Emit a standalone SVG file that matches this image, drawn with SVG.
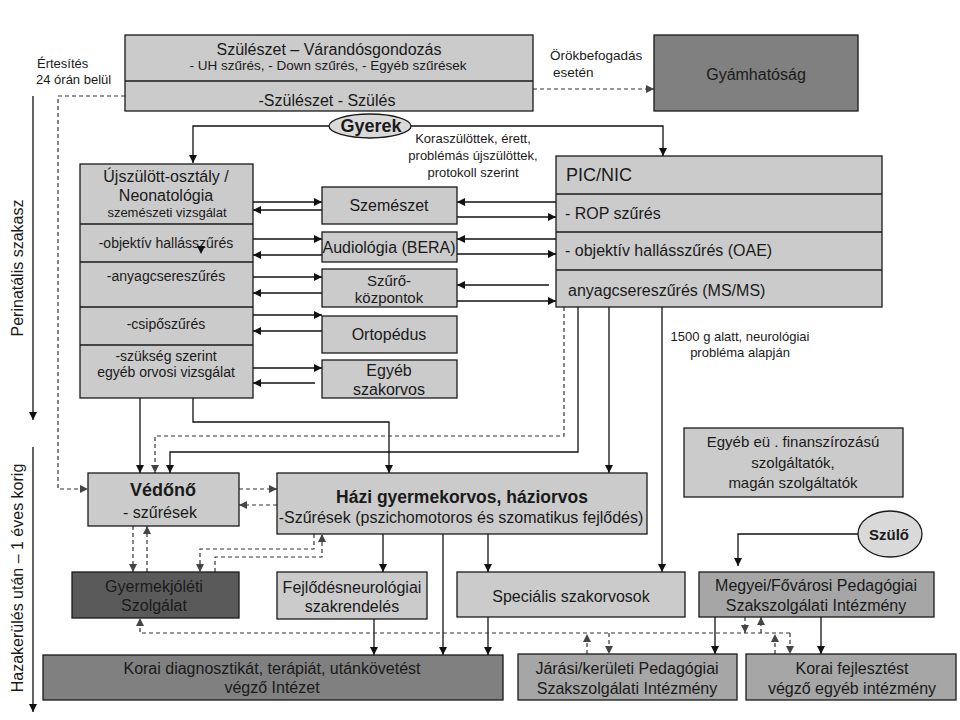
<svg xmlns="http://www.w3.org/2000/svg" width="960" height="720" viewBox="0 0 960 720">
<defs>
<style>
.b{fill:#cbcbcb;stroke:#1a1a1a;stroke-width:1.3}
.m{fill:#a6a6a6;stroke:#1a1a1a;stroke-width:1.3}
.dk{fill:#808080;stroke:#1a1a1a;stroke-width:1.3}
.dv{fill:#5a5a5a;stroke:#1a1a1a;stroke-width:1.3}
.ln{stroke:#1a1a1a;stroke-width:1.3;fill:none}
text{font-family:"Liberation Sans",Arial,sans-serif;fill:#1a1a1a}
.c{text-anchor:middle}
.s16{font-size:16px}
.s14{font-size:14px}
.s13{font-size:13px}
.bd{font-weight:bold}
.c1{stroke:#111;stroke-width:1.3;fill:none;marker-end:url(#a)}
.c0{stroke:#111;stroke-width:1.3;fill:none}
.d1{stroke:#333;stroke-width:1.2;fill:none;stroke-dasharray:4 3;marker-end:url(#g)}
.d0{stroke:#333;stroke-width:1.2;fill:none;stroke-dasharray:4 3}
</style>
<marker id="a" viewBox="0 0 10 10" refX="10" refY="5" markerWidth="9" markerHeight="8" markerUnits="userSpaceOnUse" orient="auto"><path d="M0,0 L10,5 L0,10 z" fill="#111"/></marker>
<marker id="g" viewBox="0 0 10 10" refX="10" refY="5" markerWidth="9" markerHeight="8" markerUnits="userSpaceOnUse" orient="auto"><path d="M0,0 L10,5 L0,10 z" fill="#444"/></marker>
</defs>
<rect width="960" height="720" fill="#ffffff"/>

<g id="axis">
<line x1="33" y1="96" x2="33" y2="420" class="c1"/>
<line x1="33" y1="447" x2="33" y2="712" class="c1"/>
<text class="c s16" transform="translate(23,268) rotate(-90)">Perinatális szakasz</text>
<text class="c s16" transform="translate(23,578) rotate(-90)">Hazakerülés után – 1 éves korig</text>
</g>

<g id="connectors">
<path class="c1" d="M329,126 H193 V163"/>
<path class="c1" d="M411,126 H663 V156"/>
<path class="c1" d="M253,202 H322"/>
<path class="c1" d="M322,210 H253"/>
<path class="c1" d="M253,239 H322"/>
<path class="c1" d="M322,255 H253"/>
<path class="c1" d="M253,277 H322"/>
<path class="c1" d="M322,293 H253"/>
<path class="c1" d="M253,315 H322"/>
<path class="c1" d="M322,331 H253"/>
<path class="c1" d="M253,368 H322"/>
<path class="c1" d="M315,383 H253"/>
<path class="c1" d="M556,202 H457"/>
<path class="c1" d="M457,217 H556"/>
<path class="c1" d="M556,239 H457"/>
<path class="c1" d="M457,254 H556"/>
<path class="c1" d="M549,285 H457"/>
<path class="c1" d="M457,301 H556"/>
<path class="c1" d="M140,398 V473"/>
<path class="c1" d="M193,398 V422 H389 V473"/>
<path class="c1" d="M578,307 V452 H170 V473"/>
<path class="c1" d="M609,307 V473"/>
<path class="c1" d="M662,307 V572"/>
<path class="c1" d="M383,534 V572"/>
<path class="c1" d="M443,534 V655"/>
<path class="c1" d="M488,534 V572"/>
<path class="c1" d="M374,619 V655"/>
<path class="c1" d="M488,617 V655"/>
<path class="c1" d="M858,534 H738 V566"/>
<path class="c1" d="M715,617 V654"/>
<path class="c1" d="M821,617 V654"/>

<path class="d1" d="M533,89 H654"/>
<path class="d1" d="M125,96 H58 V489 H88"/>
<path class="d1" d="M564,307 V436 H155 V473"/>
<path class="d1" d="M239,489 H277"/>
<path class="d1" d="M277,505 H239"/>
<path class="d1" d="M133,526 V572"/>
<path class="d1" d="M147,572 V526"/>
<path class="d1" d="M314,534 V549 H200 V572"/>
<path class="d1" d="M215,572 V557 H322 V534"/>
<path class="d1" d="M790,633 H140 V618"/>
<path class="d1" d="M587,654 V634"/>
<path class="d1" d="M609,633 V654"/>
<path class="d1" d="M745,617 V633"/>
<path class="d1" d="M761,633 V617"/>
<path class="d1" d="M775,654 V634"/>
<path class="d1" d="M790,633 V654"/>
</g>

<g id="szuleszet">
<rect class="b" x="125" y="35" width="408" height="76"/>
<line class="ln" x1="125" y1="81" x2="533" y2="81"/>
<text class="c s16" x="329" y="55">Szülészet – Várandósgondozás</text>
<text class="c" x="328" y="70" font-size="13.5">- UH szűrés, - Down szűrés, - Egyéb szűrések</text>
<text class="c s16" x="327" y="106">-Szülészet - Szülés</text>
</g>

<g id="gyamhatosag">
<rect class="dk" x="654" y="35" width="204" height="76" fill="#7c7c7c"/>
<text class="c s16" x="756" y="80" fill="#333">Gyámhatóság</text>
</g>

<g id="labels">
<text class="s13" x="37" y="68">Értesítés</text>
<text class="s13" x="36" y="84">24 órán belül</text>
<text x="550" y="60" font-size="13.5">Örökbefogadás</text>
<text x="553" y="77" font-size="13.5">esetén</text>
<text class="c s13" x="473" y="143">Koraszülöttek, érett,</text>
<text class="c s13" x="473" y="160">problémás újszülöttek,</text>
<text class="c s13" x="473" y="177">protokoll szerint</text>
<text class="c s13" x="740" y="341">1500 g alatt, neurológiai</text>
<text class="c s13" x="740" y="357">probléma alapján</text>
</g>

<g id="gyerek">
<ellipse cx="370" cy="126" rx="41" ry="12" fill="#d9d9d9" stroke="#1a1a1a" stroke-width="1.3"/>
<text class="c bd" x="371" y="132" font-size="18">Gyerek</text>
</g>

<g id="ujszulott">
<rect class="b" x="80" y="164" width="173" height="234"/>
<line class="ln" x1="80" y1="224" x2="253" y2="224"/>
<line class="ln" x1="80" y1="262" x2="253" y2="262"/>
<line class="ln" x1="80" y1="307" x2="253" y2="307"/>
<line class="ln" x1="80" y1="345" x2="253" y2="345"/>
<text class="c s16" x="166" y="182">Újszülött-osztály /</text>
<text class="c s16" x="166" y="201">Neonatológia</text>
<text class="c s13" x="167" y="217">szemészeti vizsgálat</text>
<text class="c s14" x="166" y="248">-objektív hallásszűrés</text>
<polygon points="197,246 205,246 201,254" fill="#111"/>
<text class="c s14" x="166" y="281">-anyagcsereszűrés</text>
<text class="c s14" x="166" y="329">-csipőszűrés</text>
<text class="c s14" x="166" y="361">-szükség szerint</text>
<text class="c s14" x="166" y="377">egyéb orvosi vizsgálat</text>
</g>

<g id="szemeszet">
<rect class="b" x="322" y="187" width="135" height="37"/>
<text class="c s16" x="389" y="211">Szemészet</text>
</g>
<g id="audiologia">
<rect class="b" x="322" y="232" width="135" height="30"/>
<text class="c s16" x="389" y="253" textLength="133" lengthAdjust="spacingAndGlyphs">Audiológia (BERA)</text>
</g>
<g id="szurokozpontok">
<rect class="b" x="322" y="269" width="135" height="38"/>
<text class="c" x="389" y="286" font-size="15">Szűrő-</text>
<text class="c" x="389" y="303" font-size="15">központok</text>
</g>
<g id="ortopedus">
<rect class="b" x="322" y="316" width="135" height="37"/>
<text class="c s16" x="389" y="340">Ortopédus</text>
</g>
<g id="egyeb-szakorvos">
<rect class="b" x="322" y="360" width="135" height="38"/>
<text class="c s16" x="389" y="376">Egyéb</text>
<text class="c s16" x="389" y="395">szakorvos</text>
</g>

<g id="picnic">
<rect class="b" x="556" y="156" width="326" height="151"/>
<line class="ln" x1="556" y1="194" x2="882" y2="194"/>
<line class="ln" x1="556" y1="232" x2="882" y2="232"/>
<line class="ln" x1="556" y1="270" x2="882" y2="270"/>
<text x="566" y="181" font-size="18">PIC/NIC</text>
<text class="s16" x="565" y="219">- ROP szűrés</text>
<text class="s16" x="565" y="256">- objektív hallásszűrés (OAE)</text>
<text class="s16" x="568" y="296">anyagcsereszűrés (MS/MS)</text>
</g>

<g id="vedono">
<rect class="b" x="88" y="473" width="151" height="53"/>
<text class="c bd" x="163" y="496" font-size="18">Védőnő</text>
<text class="c s16" x="160" y="518">- szűrések</text>
</g>

<g id="hazi">
<rect class="b" x="277" y="473" width="370" height="61"/>
<text class="c bd" x="462" y="503" font-size="17.5">Házi gyermekorvos, háziorvos</text>
<text class="c s16" x="461" y="523">-Szűrések (pszichomotoros és szomatikus fejlődés)</text>
</g>

<g id="gyermekjoleti">
<rect class="dv" x="72" y="572" width="167" height="46"/>
<text class="c s16" x="154" y="592" fill="#2b2b2b">Gyermekjóléti</text>
<text class="c s16" x="154" y="611" fill="#2b2b2b">Szolgálat</text>
</g>

<g id="fejlodesneurologiai">
<rect class="b" x="277" y="572" width="150" height="47"/>
<text class="c s16" x="352" y="593">Fejlődésneurológiai</text>
<text class="c s16" x="352" y="612">szakrendelés</text>
</g>

<g id="specialis">
<rect class="b" x="457" y="572" width="228" height="45"/>
<text class="c s16" x="571" y="602">Speciális szakorvosok</text>
</g>

<g id="egyeb-eu">
<rect class="b" x="684" y="428" width="219" height="69"/>
<text class="c" x="793" y="447" font-size="15">Egyéb eü . finanszírozású</text>
<text class="c" x="793" y="468" font-size="15">szolgáltatók,</text>
<text class="c" x="793" y="488" font-size="15">magán szolgáltatók</text>
</g>

<g id="szulo">
<ellipse cx="890" cy="534" rx="32" ry="23" fill="#d9d9d9" stroke="#1a1a1a" stroke-width="1.3"/>
<text class="c bd" x="889" y="540" font-size="15">Szülő</text>
</g>

<g id="megyei">
<rect class="m" x="699" y="572" width="235" height="45"/>
<text class="c s16" x="816" y="591">Megyei/Fővárosi Pedagógiai</text>
<text class="c s16" x="816" y="611">Szakszolgálati Intézmény</text>
</g>

<g id="korai-diagnosztika">
<rect class="dk" x="43" y="655" width="460" height="45"/>
<text class="c s16" x="272" y="674" fill="#333">Korai diagnosztikát, terápiát, utánkövetést</text>
<text class="c s16" x="272" y="693" fill="#333">végző Intézet</text>
</g>

<g id="jarasi">
<rect class="m" x="518" y="654" width="219" height="46"/>
<text class="c s16" x="627" y="674">Járási/kerületi Pedagógiai</text>
<text class="c s16" x="627" y="694">Szakszolgálati Intézmény</text>
</g>

<g id="korai-fejlesztes">
<rect class="m" x="746" y="654" width="210" height="46"/>
<text class="c s16" x="852" y="674">Korai fejlesztést</text>
<text class="c s16" x="852" y="694">végző egyéb intézmény</text>
</g>
</svg>
